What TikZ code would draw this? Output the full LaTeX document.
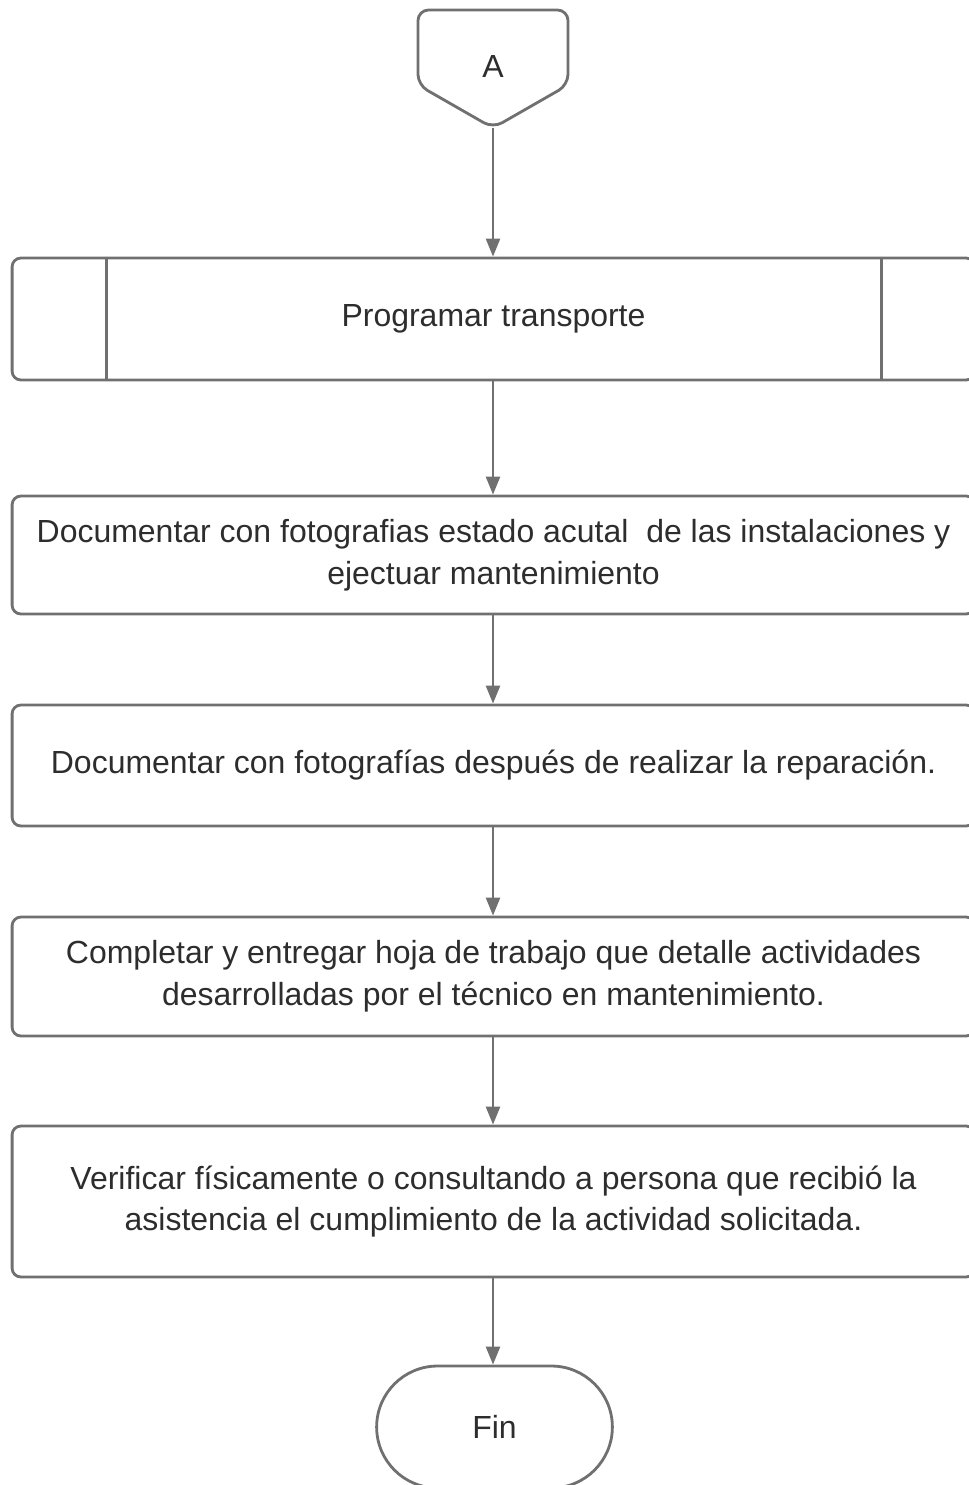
\documentclass[tikz,border=0pt]{standalone}
\usepackage{fontspec}
\setmainfont{Liberation Sans}
\usepackage{xcolor}
\definecolor{lineg}{RGB}{112,112,112}
\definecolor{textg}{RGB}{45,45,45}
\usetikzlibrary{arrows.meta, positioning, shapes.misc, calc}

\tikzset{
  procbox/.style={draw=lineg, line width=1.6pt, rounded corners=5pt, fill=white,
    minimum width=19.26cm, align=center, text=textg, font=\fontsize{18.2}{23.8}\selectfont},
  termbox/.style={draw=lineg, line width=1.6pt, rounded rectangle, fill=white,
    minimum width=4.95cm, minimum height=2.44cm, text=textg, font=\fontsize{18.2}{23.8}\selectfont},
  flowarrow/.style={draw=lineg, line width=1.4pt, -{Triangle[length=0.36cm,width=0.28cm]}}
}

\begin{document}
\begin{tikzpicture}[x=0.02cm, y=-0.02cm]
  \useasboundingbox (0,0) rectangle (969,1485);
  \clip (0,0) rectangle (969,1485);

  % Off-page connector
  \draw[draw=lineg, line width=1.6pt, fill=white, rounded corners=6pt]
    (418,10) -- (568,10) -- (568,85) -- (493,128) -- (418,85) -- cycle;
  \node[text=textg, font=\fontsize{18.2}{23.8}\selectfont] (conA) at (493,66) {A};
  \coordinate (conAbot) at (493,128);

  % Predefined process
  \node[procbox, minimum height=2.44cm] (prog) at (493.5,319) {Programar transporte};
  \draw[lineg, line width=1.6pt] ($(prog.north west)+(96,0)$) -- ($(prog.south west)+(96,0)$);
  \draw[lineg, line width=1.6pt] ($(prog.north east)+(-95,0)$) -- ($(prog.south east)+(-95,0)$);

  % Process boxes
  \node[procbox, minimum height=2.36cm] (docA) at (493.5,555)
    {Documentar con fotografias estado acutal\ \ de las instalaciones y\\ejectuar mantenimiento};
  \node[procbox, minimum height=2.42cm] (docB) at (493.5,765.5)
    {Documentar con fotografías después de realizar la reparación.};
  \node[procbox, minimum height=2.38cm] (hoja) at (493.5,976.5)
    {Completar y entregar hoja de trabajo que detalle actividades\\desarrolladas por el técnico en mantenimiento.};
  \node[procbox, minimum height=3.02cm] (verif) at (493.5,1201.5)
    {Verificar físicamente o consultando a persona que recibió la\\asistencia el cumplimiento de la actividad solicitada.};

  % End
  \node[termbox] (fin) at (494.5,1427) {Fin};

  % Connectors
  \draw[flowarrow] (conAbot) -- (prog.north -| conAbot);
  \draw[flowarrow] (prog.south -| conAbot) -- (docA.north -| conAbot);
  \draw[flowarrow] (docA.south -| conAbot) -- (docB.north -| conAbot);
  \draw[flowarrow] (docB.south -| conAbot) -- (hoja.north -| conAbot);
  \draw[flowarrow] (hoja.south -| conAbot) -- (verif.north -| conAbot);
  \draw[flowarrow] (verif.south -| conAbot) -- (fin.north -| conAbot);
\end{tikzpicture}
\end{document}
